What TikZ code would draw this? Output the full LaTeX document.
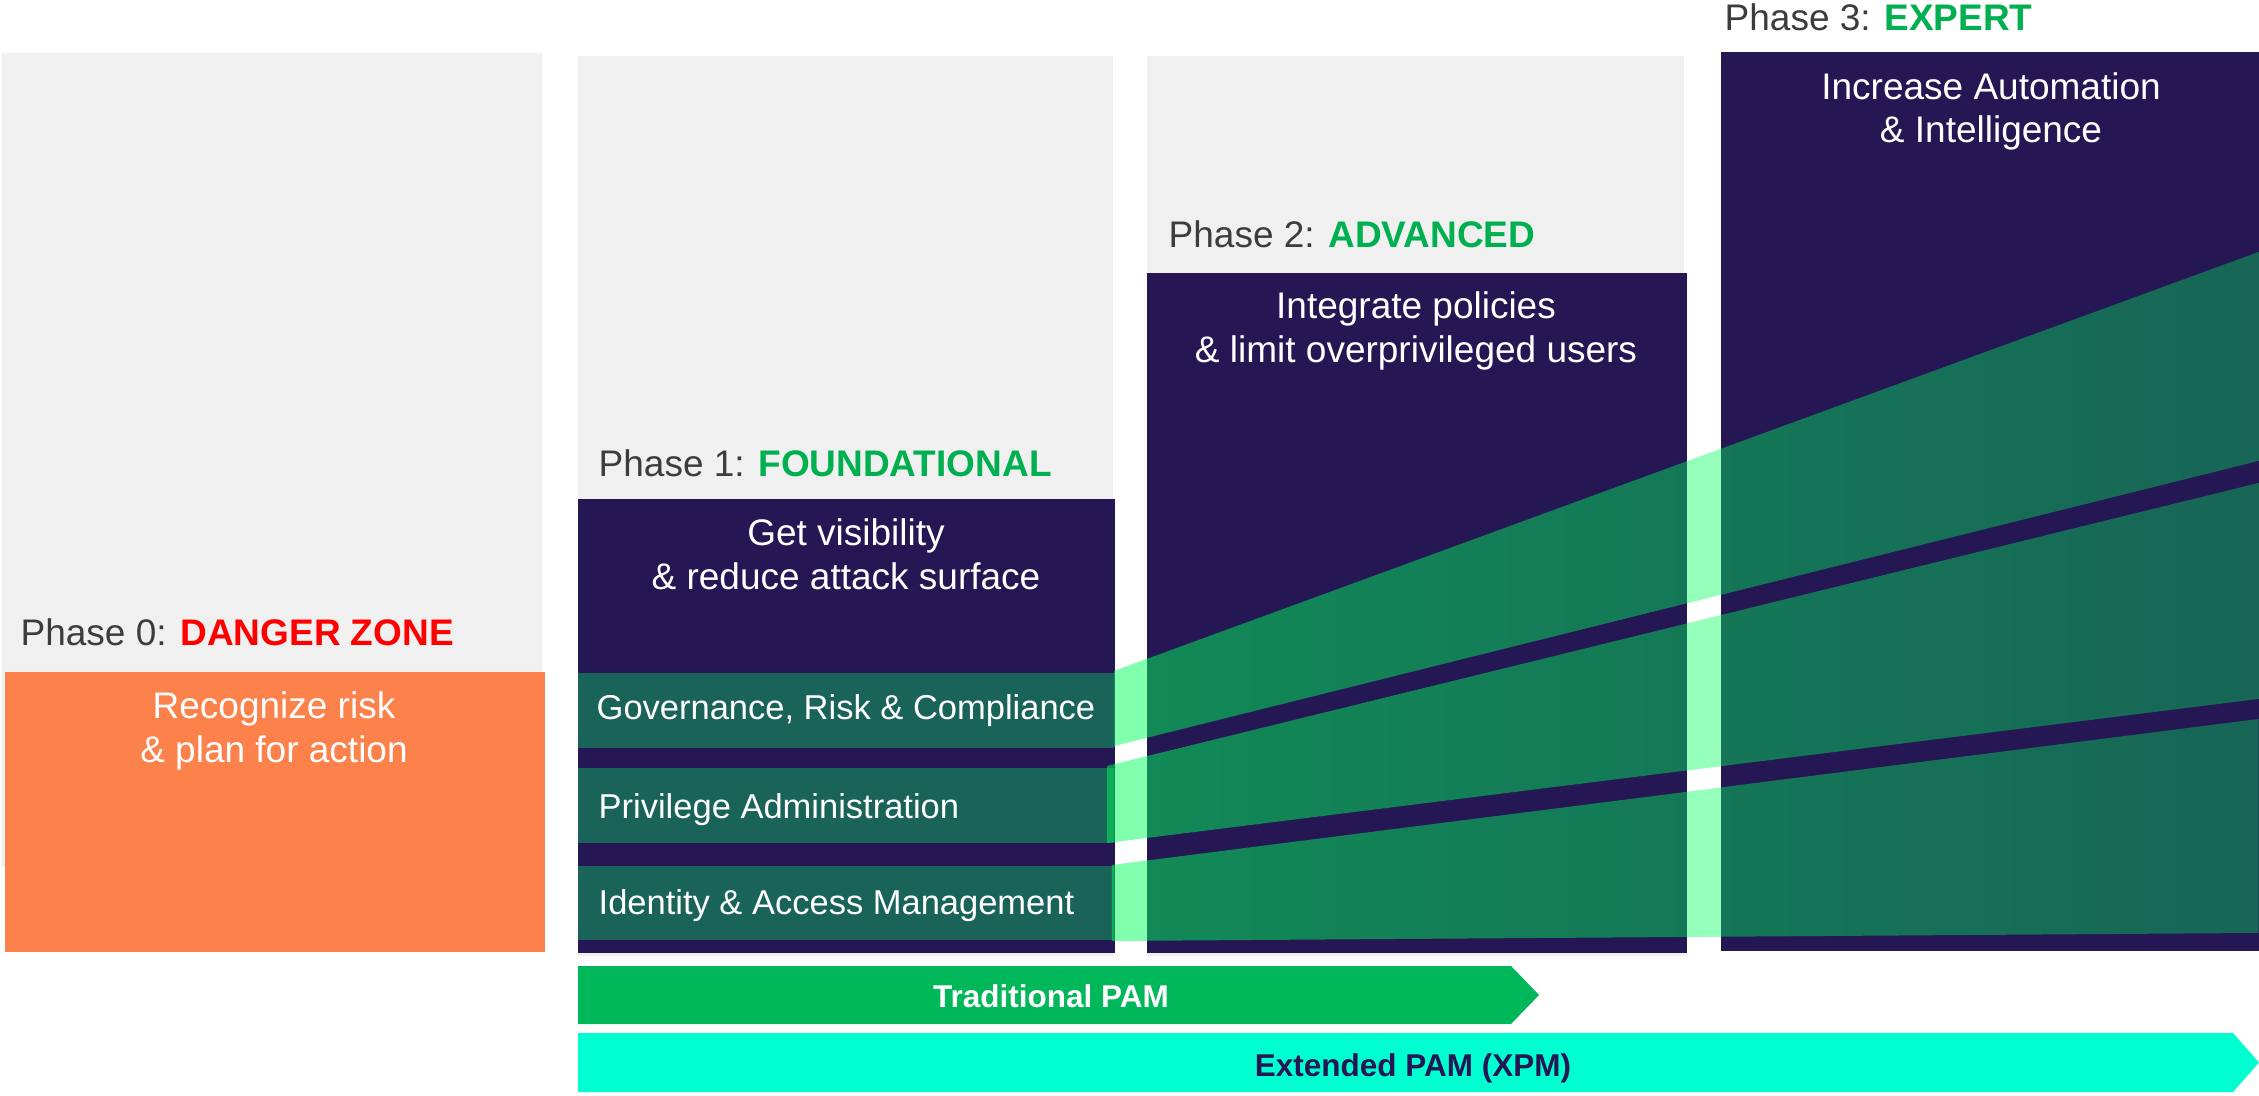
\documentclass[tikz,border=0pt]{standalone}
\usepackage{fontspec}
\setmainfont{Liberation Sans}
\usetikzlibrary{fadings}
\definecolor{lightgray}{RGB}{240,240,240}
\definecolor{orangebox}{RGB}{253,129,74}
\definecolor{purplebox}{RGB}{36,23,84}
\definecolor{tealrow}{RGB}{26,99,88}
\definecolor{phasegray}{RGB}{60,60,60}
\definecolor{dangerred}{RGB}{255,0,0}
\definecolor{phasegreen}{RGB}{0,176,80}
\definecolor{tradgreen}{RGB}{0,184,90}
\definecolor{xpmaqua}{RGB}{0,255,208}
\definecolor{bandgreen}{RGB}{0,255,92}
\tikzfading[name=bandfade, left color=transparent!50, right color=transparent!66]
\begin{document}
\begin{tikzpicture}[x=0.3pt,y=-0.3pt,
  lbl/.style={inner sep=0, anchor=base west, font=\fontsize{11.1}{13}\selectfont, text=phasegray},
  desc/.style={inner sep=0, anchor=base, font=\fontsize{11.1}{13}\selectfont, text=white},
  rowtxt/.style={inner sep=0, anchor=base west, font=\fontsize{10.35}{12}\selectfont, text=white},
  band/.style={fill=bandgreen, path fading=bandfade, fit fading=true, draw=none},
  bartxt/.style={inner sep=0, anchor=base, font=\bfseries\fontsize{9.45}{11}\selectfont}]

\useasboundingbox (0,0) rectangle (2259,1096);
\fill[white] (0,0) rectangle (2259,1096);

% background grey columns
\fill[lightgray] (2,53) rectangle (542,867);
\fill[lightgray] (578,56) rectangle (1113,956);
\fill[lightgray] (1147,56) rectangle (1684,956);

% phase 0
\fill[orangebox] (5,672) rectangle (545,952);
% phase 1
\fill[purplebox] (578,499) rectangle (1115,953);
\fill[tealrow] (578,673) rectangle (1114,748);
\fill[tealrow] (578,768) rectangle (1114,843);
\fill[tealrow] (578,866) rectangle (1114,940);
% phase 2
\fill[purplebox] (1147,273) rectangle (1687,953);
% phase 3
\fill[purplebox] (1721,52) rectangle (2259,951);

% translucent bands
\fill[band] (1114,671) -- (2259,252) -- (2259,461) -- (1114,746) -- cycle;
\fill[band] (1107,766) -- (2259,483) -- (2259,699) -- (1107,843) -- cycle;
\fill[band] (1112,865) -- (2259,719) -- (2259,933) -- (1112,941) -- cycle;

% phase labels
\node[lbl] (p0) at (20,646) {Phase 0: {\bfseries\color{dangerred}DANGER ZONE}};
\node[lbl] (p1) at (598,477) {Phase 1: {\bfseries\color{phasegreen}FOUNDATIONAL}};
\node[lbl] (p2) at (1168,248) {Phase 2: {\bfseries\color{phasegreen}ADVANCED}};
\node[lbl] (p3) at (1724,31) {Phase 3: {\bfseries\color{phasegreen}EXPERT}};

% descriptions
\node[desc] (d0a) at (274,719) {Recognize risk};
\node[desc] (d0b) at (274,763) {\& plan for action};
\node[desc] (d1a) at (846,546) {Get visibility};
\node[desc] (d1b) at (846,590) {\& reduce attack surface};
\node[desc] (d2a) at (1416,319) {Integrate policies};
\node[desc] (d2b) at (1416,363) {\& limit overprivileged users};
\node[desc] (d3a) at (1991,100) {Increase Automation};
\node[desc] (d3b) at (1991,143) {\& Intelligence};

% rows
\node[rowtxt] (grc) at (596,720) {Governance, Risk \& Compliance};
\node[rowtxt] (pa) at (598,818) {Privilege Administration};
\node[rowtxt] (iam) at (598,914) {Identity \& Access Management};

% bottom bars
\fill[tradgreen] (578,966) -- (1511,966) -- (1539,995) -- (1511,1024) -- (578,1024) -- cycle;
\fill[xpmaqua] (578,1033) -- (2233,1033) -- (2259,1062.5) -- (2233,1092) -- (578,1092) -- cycle;
\node[bartxt, text=white] (trad) at (1051,1007) {Traditional PAM};
\node[bartxt, text=purplebox] (xpm) at (1413,1076) {Extended PAM (XPM)};
\end{tikzpicture}
\end{document}
